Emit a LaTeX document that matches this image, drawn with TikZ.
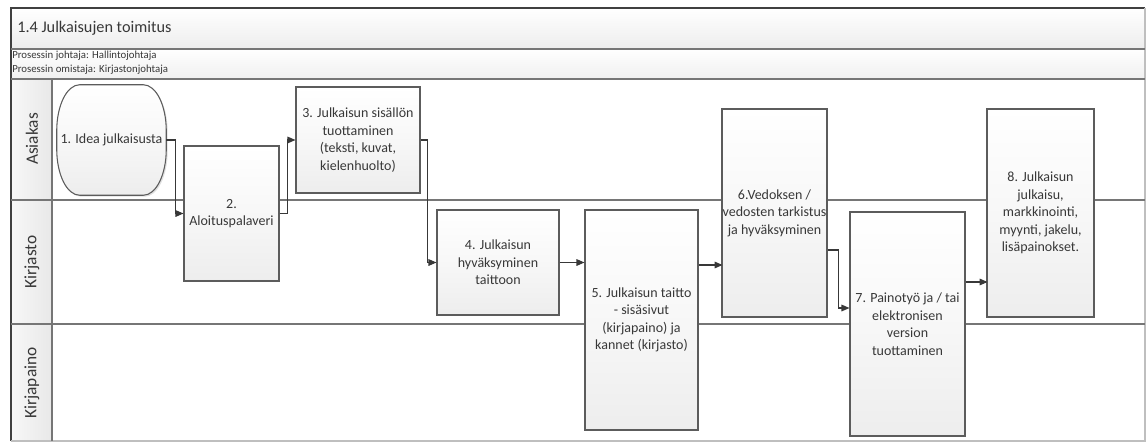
\documentclass[tikz,border=0pt]{standalone}
\usepackage{fontspec}
\setmainfont{Carlito}
\usetikzlibrary{arrows.meta,calc,shadows}
\definecolor{ink}{HTML}{383838}
\definecolor{edge}{HTML}{5C5C5C}
\definecolor{lane}{HTML}{767676}
\begin{document}
\begin{tikzpicture}[x=0.75pt,y=-0.75pt,
  boxsize/.style 2 args={minimum width=#1*0.75pt, minimum height=#2*0.75pt},
  boxfill/.style={top color=white, bottom color=black!7, middle color=black!3},
  boxfont/.style={font=\fontsize{10.5}{13.1}\selectfont},
  stepbox/.style={draw=edge, line width=0.8pt, boxfill, align=center, inner sep=0pt, text=ink,
    boxfont,
    drop shadow={shadow xshift=1.1pt, shadow yshift=-1.1pt, opacity=0.12, fill=black}},
  flow/.style={draw=ink, line width=0.8pt, -{Triangle[length=6pt,width=5pt]}},
  laneline/.style={draw=lane, line width=1.1pt},
  lanehead/.style={left color=black!3, right color=black!9},
  lanelabel/.style={rotate=90, text=ink, font=\fontsize{13}{15}\selectfont},
]
\useasboundingbox (0,0) rectangle (1147,443);

% header bands
\shade[top color=white, bottom color=black!7] (11,8) rectangle (1145,49);
\shade[top color=white, bottom color=black!6] (11,49) rectangle (1145,79);
\node[anchor=west, text=ink, font=\fontsize{12.2}{15}\selectfont, inner sep=0pt] (title) at (17,28.5) {1.4 Julkaisujen toimitus};
\node[anchor=north west, text=ink, font=\fontsize{8.1}{10.5}\selectfont, align=left, inner sep=0pt] (owners) at (12,50.5)
  {Prosessin johtaja: Hallintojohtaja\\Prosessin omistaja: Kirjastonjohtaja};

% lane headers
\shade[lanehead] (11,79) rectangle (52,441);
\node[lanelabel] (laneA) at (32,139) {Asiakas};
\node[lanelabel] (laneB) at (32,262) {Kirjasto};
\node[lanelabel] (laneC) at (32,383) {Kirjapaino};

% frame and lane lines
\draw[draw=black!75, line width=1pt] (11,441) -- (11,8) -- (1145,8);
\draw[draw=black!25, line width=0.8pt] (1145,8) -- (1145,441) -- (11,441);
\draw[laneline] (11,49) -- (1145,49);
\draw[laneline] (11,79) -- (1145,79);
\draw[laneline] (11,200) -- (1145,200);
\draw[laneline] (11,324) -- (1145,324);
\draw[laneline] (52,79) -- (52,441);

% start event: a box with deep elliptic corners
\node[boxsize={109}{110}, inner sep=0pt] (n1) at (111.5,140) {};
\path[draw=edge, line width=0.8pt, boxfill,
      drop shadow={shadow xshift=1.1pt, shadow yshift=-1.1pt, opacity=0.12, fill=black}]
  ($(n1.north west)+(23,0)$) -- ($(n1.north east)+(-23,0)$)
  .. controls ($(n1.north east)+(-10,0)$) and ($(n1.north east)+(0,21)$) .. ($(n1.north east)+(0,46)$)
  -- ($(n1.south east)+(0,-46)$)
  .. controls ($(n1.south east)+(0,-21)$) and ($(n1.south east)+(-10,0)$) .. ($(n1.south east)+(-23,0)$)
  -- ($(n1.south west)+(23,0)$)
  .. controls ($(n1.south west)+(10,0)$) and ($(n1.south west)+(0,-21)$) .. ($(n1.south west)+(0,-46)$)
  -- ($(n1.north west)+(0,46)$)
  .. controls ($(n1.north west)+(0,21)$) and ($(n1.north west)+(10,0)$) .. cycle;
\node[text=ink, boxfont] (n1text) at (n1.center) {1. Idea julkaisusta};

% process steps
\node[stepbox, boxsize={95}{135}] (n2) at (231.5,213.5) {2.\\Aloituspalaveri};
\node[stepbox, boxsize={124}{106}] (n3) at (358,140) {3. Julkaisun sisällön\\tuottaminen\\(teksti, kuvat,\\kielenhuolto)};
\node[stepbox, boxsize={122}{105}] (n4) at (498,262.5) {4. Julkaisun\\hyväksyminen\\taittoon};
\node[stepbox, boxsize={113}{220}] (n5) at (641.5,320) {5. Julkaisun taitto\\- sisäsivut\\(kirjapaino) ja\\kannet (kirjasto)};
\node[stepbox, boxsize={105}{208}] (n6) at (774.5,213) {6.Vedoksen /\\vedosten tarkistus\\ja hyväksyminen};
\node[stepbox, boxsize={115}{224}] (n7) at (907.5,324) {7. Painotyö ja / tai\\elektronisen\\version\\tuottaminen};
\node[stepbox, boxsize={107}{208}] (n8) at (1040.5,213) {8. Julkaisun\\julkaisu,\\markkinointi,\\myynti, jakelu,\\lisäpainokset.};

% connectors
\draw[flow] (n1.east) -- ++(9,0) |- (n2.west);
\draw[flow] (n2.east) -- ++(8,0) |- (n3.west);
\draw[flow] (n3.east) -- ++(7,0) |- (n4.west);
\draw[flow] (n4.east) -- (n4.east -| n5.west);
\draw[flow] ($(n5.east)+(0,-55)$) -- ($(n5.east)+(24,-55)$);
\draw[flow] ($(n6.east)+(0,37)$) -- ++(11,0) |- ($(n7.west)+(0,-16)$);
\draw[flow] ($(n7.east)+(0,-42)$) -- ($(n7.east)+(22,-42)$);
\end{tikzpicture}
\end{document}
